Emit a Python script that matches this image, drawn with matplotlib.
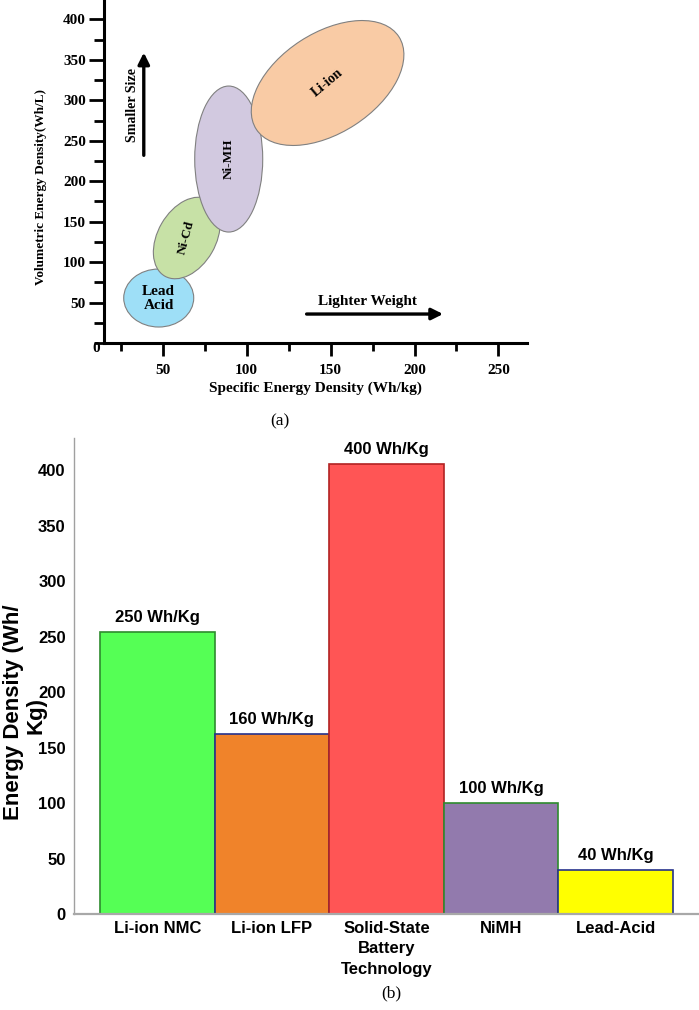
import matplotlib
matplotlib.use('Agg')
import matplotlib.pyplot as plt
from matplotlib.patches import Ellipse
from matplotlib.transforms import ScaledTranslation
from matplotlib.ticker import MultipleLocator

# ---- panel (a): energy density regions ----
chem_names = ['Lead\nAcid', 'Ni-Cd', 'Ni-MH', 'Li-ion']
chem_spec = [47.6, 64.3, 89.3, 148.2]      # Wh/kg (centre)
chem_vol = [55.6, 129.8, 227.4, 321.4]     # Wh/L (centre)
chem_colors = ['#9EDFF7', '#C7E1A6', '#D2C9E0', '#F9CBA5']

# ---- panel (b): gravimetric energy density ----
bar_names = ['Li-ion NMC', 'Li-ion LFP', 'Solid-State\nBattery\nTechnology', 'NiMH', 'Lead-Acid']
bar_values = [254, 162, 406, 100, 40]
bar_labels = ['250 Wh/Kg', '160 Wh/Kg', '400 Wh/Kg', '100 Wh/Kg', '40 Wh/Kg']
bar_colors = ['#55FF55', '#F0832A', '#FF5555', '#927AAD', '#FFFF00']
bar_edges = ['#2E8B2E', '#26328C', '#B22222', '#2E8B2E', '#26328C']

W, H = 699, 1010
fig = plt.figure(figsize=(W / 100, H / 100), dpi=100)

SERIF = 'Liberation Serif'
SANS = 'Liberation Sans'

# ---------------- (a) ----------------
ax1 = fig.add_axes([104 / W, 1 - 343 / H, (527 - 104) / W, 343 / H])
ax1.set_xlim(15, 267)
ax1.set_ylim(0, 424)
for s in ['top', 'right']:
    ax1.spines[s].set_visible(False)
for s in ['left', 'bottom']:
    ax1.spines[s].set_linewidth(2.2)

ax1.xaxis.set_minor_locator(MultipleLocator(25))
ax1.yaxis.set_minor_locator(MultipleLocator(25))
ax1.set_xticks([50, 100, 150, 200, 250])
ax1.set_yticks([50, 100, 150, 200, 250, 300, 350, 400])
ax1.tick_params(axis='x', which='major', length=9, width=2, pad=6)
ax1.tick_params(axis='x', which='minor', length=6, width=2)
ax1.tick_params(axis='y', which='major', length=11, width=2, pad=2)
ax1.tick_params(axis='y', which='minor', length=7, width=2)
for lab in ax1.get_xticklabels() + ax1.get_yticklabels():
    lab.set_fontfamily(SERIF)
    lab.set_fontweight('bold')
    lab.set_fontsize(11)
ax1.annotate('0', xy=(0, 0), xycoords='axes fraction', xytext=(-3, -4),
             textcoords='offset points', ha='right', va='center',
             fontfamily=SERIF, fontweight='bold', fontsize=11)

ax1.set_xlabel('Specific Energy Density (Wh/kg)', fontfamily=SERIF,
               fontweight='bold', fontsize=11)
ax1.xaxis.set_label_coords(0.5, -0.112)
ax1.xaxis.label.set_va('top')
ax1.set_ylabel('Volumetric Energy Density(Wh/L)', fontfamily=SERIF,
               fontweight='bold', fontsize=9.5)
ax1.yaxis.set_label_coords(-0.135, 0.455)

# ellipse shapes in pixels: (width, height, angle)
shapes = [(70, 58, 0), (88, 58, 60), (68, 146, 0), (170, 100, 33)]
rots = [0, 75, 90, 40]
sizes = [11, 9.5, 9.5, 10]
for name, x, y, c, (w, h, a), r, fs in zip(chem_names, chem_spec, chem_vol,
                                            chem_colors, shapes, rots, sizes):
    tr = fig.dpi_scale_trans + ScaledTranslation(x, y, ax1.transData)
    ax1.add_patch(Ellipse((0, 0), w / 100, h / 100, angle=a, transform=tr,
                          facecolor=c, edgecolor='#808080', linewidth=0.8,
                          zorder=2))
    ax1.text(x, y, name, rotation=r, ha='center', va='center',
             fontfamily=SERIF, fontweight='bold', fontsize=fs,
             linespacing=1.1, zorder=3)

arrow_kw = dict(arrowstyle='-|>', color='black', lw=2.4, mutation_scale=17,
                shrinkA=0, shrinkB=0)
ax1.annotate('', xy=(38.7, 359), xytext=(38.7, 232), arrowprops=arrow_kw)
ax1.text(32, 294, 'Smaller Size', rotation=90, ha='center', va='center',
         fontfamily=SERIF, fontweight='bold', fontsize=10)
ax1.annotate('', xy=(217, 35.8), xytext=(135.7, 35.8), arrowprops=arrow_kw)
ax1.text(172, 51, 'Lighter Weight', ha='center', va='center',
         fontfamily=SERIF, fontweight='bold', fontsize=11)

fig.text(280 / W, 1 - 421 / H, '(a)', ha='center', va='center',
         fontfamily=SERIF, fontsize=12.5)

# ---------------- (b) ----------------
ax2 = fig.add_axes([74 / W, 1 - 914 / H, (W - 74) / W, (914 - 438) / H])
xs = list(range(len(bar_names)))
ax2.bar(xs, bar_values, width=1.0, color=bar_colors, edgecolor=bar_edges,
        linewidth=1.2, zorder=2)
for x, v, t in zip(xs, bar_values, bar_labels):
    ax2.annotate(t, xy=(x, v), xytext=(0, 5), textcoords='offset points',
                 ha='center', va='bottom', fontfamily=SANS,
                 fontweight='bold', fontsize=12)

ax2.set_xlim(-0.727, 4.727)
ax2.set_ylim(0, 429)
ax2.set_xticks(xs)
ax2.set_xticklabels(bar_names, fontfamily=SANS, fontweight='bold',
                    fontsize=12, linespacing=1.45)
ax2.set_yticks(range(0, 401, 50))
for lab in ax2.get_yticklabels():
    lab.set_fontfamily(SANS)
    lab.set_fontweight('bold')
    lab.set_fontsize(12)
ax2.tick_params(axis='both', length=0)
ax2.tick_params(axis='x', pad=5)
ax2.tick_params(axis='y', pad=6)
for s in ['top', 'right']:
    ax2.spines[s].set_visible(False)
ax2.spines['left'].set_color('#A0A0A0')
ax2.spines['left'].set_linewidth(1.0)
ax2.spines['bottom'].set_color('#A8A8A8')
ax2.spines['bottom'].set_linewidth(1.6)

# y label wraps onto a short second line that sits between two tick labels
ylab_kw = dict(rotation=90, ha='center', va='center', fontfamily=SANS,
               fontweight='bold', fontsize=16, transform=ax2.transAxes)
ax2.text(-0.097, 0.424, 'Energy Density (Wh/', **ylab_kw)
ax2.text(-0.060, 0.418, 'Kg)', **ylab_kw)

fig.text(391 / W, 1 - 993 / H, '(b)', ha='center', va='center',
         fontfamily=SERIF, fontsize=12.5)

fig.savefig('out.png', dpi=100)
